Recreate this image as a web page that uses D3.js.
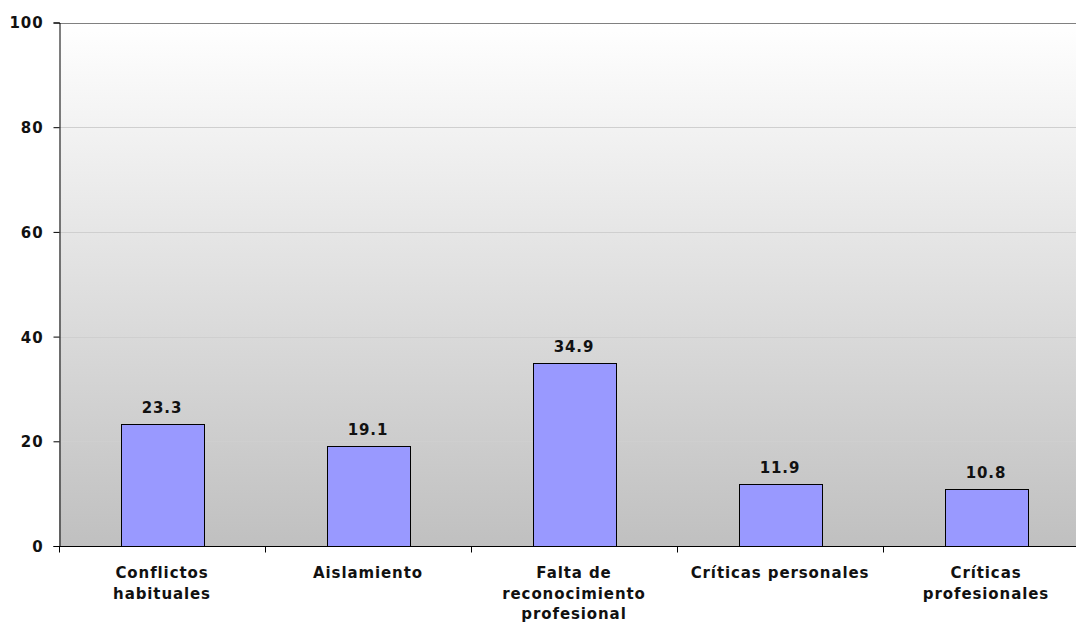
<!DOCTYPE html>
<html><head><meta charset="utf-8">
<script src="https://cdn.jsdelivr.net/npm/d3@7"></script>
<style>body{margin:0;background:#fff;overflow:hidden}svg{display:block}text{font-family:Verdana,"DejaVu Sans",sans-serif;font-weight:bold;fill:#111}</style>
</head><body>
<script>
const categories = [["Conflictos","habituales"],["Aislamiento"],["Falta de","reconocimiento","profesional"],["Críticas personales"],["Críticas","profesionales"]];
const values = [23.3, 19.1, 34.9, 11.9, 10.8];
const yTicks = [0, 20, 40, 60, 80, 100];

const W = 1076, H = 622;
const m = {left: 59, top: 22.5, right: -13, bottom: 76};
const pw = W - m.left - m.right, ph = H - m.top - m.bottom;
const FS = 15, LS = "0.9px";
const svg = d3.select("body").append("svg").attr("width", W).attr("height", H);
const defs = svg.append("defs");
const gr = defs.append("linearGradient").attr("id","bg").attr("x1",0).attr("y1",0).attr("x2",0).attr("y2",1);
gr.append("stop").attr("offset","0%").attr("stop-color","#ffffff");
gr.append("stop").attr("offset","100%").attr("stop-color","#c0c0c0");

const xb = d3.scaleBand().domain(d3.range(values.length)).range([m.left, m.left + pw]);
const y = d3.scaleLinear().domain([0, 100]).range([m.top + ph, m.top]);

svg.append("rect").attr("x", m.left).attr("y", m.top).attr("width", pw).attr("height", ph).attr("fill", "url(#bg)");

svg.append("g").selectAll("line").data(yTicks.slice(1, -1)).join("line")
  .attr("x1", m.left).attr("x2", m.left + pw)
  .attr("y1", d => Math.round(y(d)) + 0.5).attr("y2", d => Math.round(y(d)) + 0.5)
  .attr("stroke", "#cfcfcf");
svg.append("line").attr("x1", m.left).attr("x2", m.left + pw)
  .attr("y1", Math.round(y(100)) + 0.5).attr("y2", Math.round(y(100)) + 0.5)
  .attr("stroke", "#808080");

svg.append("g").selectAll("rect").data(values).join("rect")
  .attr("x", (d, i) => Math.round(xb(i) + xb.bandwidth()/2 - 41.5) + 0.5)
  .attr("width", 83)
  .attr("y", d => Math.round(y(d)) + 0.5)
  .attr("height", d => Math.round(y(0)) - Math.round(y(d)))
  .attr("fill", "#9999ff").attr("stroke", "#000").attr("stroke-width", 1);

svg.append("g").selectAll("text").data(values).join("text")
  .attr("x", (d, i) => xb(i) + xb.bandwidth()/2)
  .attr("y", d => y(d) - 11)
  .attr("text-anchor", "middle").attr("font-size", FS).attr("letter-spacing", LS)
  .text(d => d.toFixed(1));

const yAxis = svg.append("g").attr("transform", `translate(${m.left + 0.5},0)`)
  .call(d3.axisLeft(y).tickValues(yTicks).tickSize(6).tickPadding(10).tickFormat(d3.format("d")));
yAxis.select(".domain").attr("stroke", "#000");
yAxis.selectAll(".tick line").attr("stroke", "#000");
yAxis.selectAll("text").attr("font-size", FS).attr("letter-spacing", LS).attr("font-family", null).attr("dy", "0.36em");

const xAxis = svg.append("g").attr("transform", `translate(0,${Math.round(y(0)) + 0.5})`);
xAxis.append("line").attr("x1", m.left).attr("x2", m.left + pw).attr("stroke", "#000");
xAxis.selectAll("line.tk").data(d3.range(values.length + 1)).join("line").attr("class","tk")
  .attr("x1", i => Math.round(m.left + i * xb.bandwidth()) + 0.5)
  .attr("x2", i => Math.round(m.left + i * xb.bandwidth()) + 0.5)
  .attr("y1", 0).attr("y2", 6).attr("stroke", "#000");

svg.append("g").selectAll("text").data(categories).join("text")
  .attr("x", (d, i) => xb(i) + xb.bandwidth()/2)
  .attr("y", 578)
  .attr("text-anchor", "middle").attr("font-size", FS).attr("letter-spacing", LS)
  .each(function(d, i) {
    const t = d3.select(this);
    const cx = xb(i) + xb.bandwidth()/2;
    d.forEach((line, k) => t.append("tspan").attr("x", cx).attr("dy", k === 0 ? 0 : 20.5).text(line));
  });
</script>
</body></html>
